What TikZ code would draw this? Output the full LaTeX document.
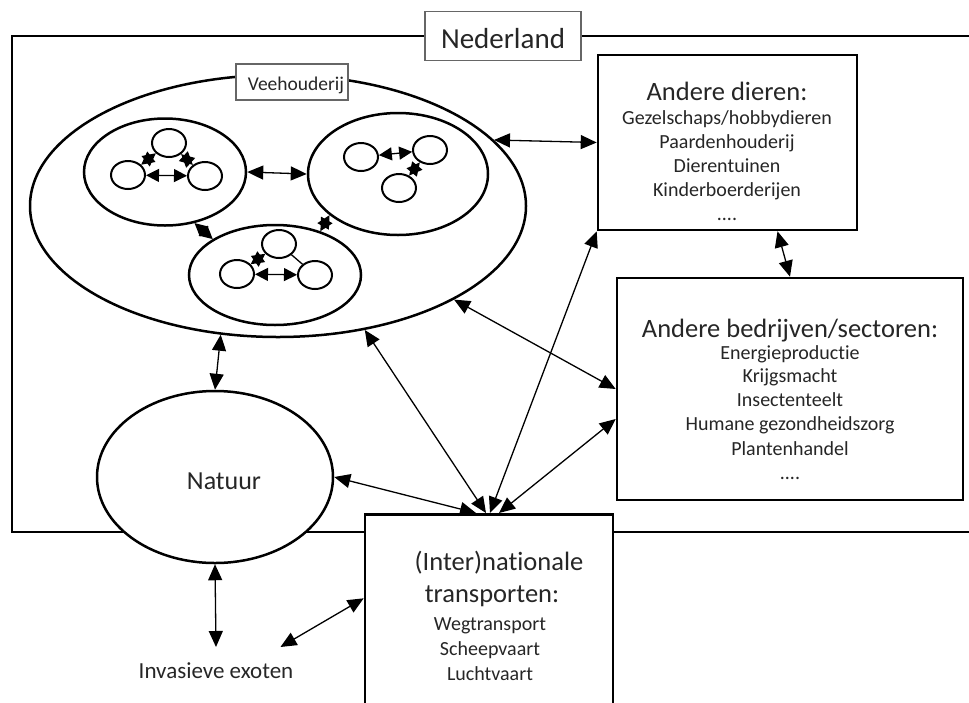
\documentclass[tikz,border=0pt]{standalone}
\usepackage{fontspec}
\setmainfont{Carlito}[Ligatures=NoCommon]
\usetikzlibrary{arrows.meta,shapes.geometric}
\newcommand\fsz[1]{\fontsize{#1}{#1}\selectfont}
\begin{document}
\begin{tikzpicture}[x=1pt,y=-1pt,
  frame/.style={line width=2.6pt,draw=black},
  box/.style={draw=black,line width=2.6pt,fill=white,inner sep=0pt},
  ell/.style={ellipse,draw=black,line width=2.5pt,inner sep=0pt},
  smallc/.style={ellipse,draw=black,line width=2pt,minimum width=34pt,minimum height=28pt,inner sep=0pt},
  lbl/.style={draw=black!60,line width=1.1pt,fill=white,inner sep=0pt},
  txt/.style={text=black!85,inner sep=0pt,anchor=base},
  con/.style={line width=1.3pt,{Triangle[length=16pt,width=14pt]}-{Triangle[length=16pt,width=14pt]}},
  scon/.style={line width=1.3pt,{Triangle[length=13pt,width=13pt]}-{Triangle[length=13pt,width=13pt]}}]
\useasboundingbox (0,0) rectangle (969,702);
% Nederland frame
\draw[frame] (975,36) -- (12,36) -- (12,532) -- (975,532);
% Veehouderij
\node[ell,minimum width=496pt,minimum height=262pt] (vee) at (278,206) {};
\node[ell,minimum width=162pt,minimum height=107pt] (sub1) at (165,172) {};
\node[ell,minimum width=180pt,minimum height=122pt] (sub2) at (398,174) {};
\node[ell,minimum width=172pt,minimum height=100pt] (sub3) at (275,275) {};
\node[smallc] (c1t) at (169,143) {};
\node[smallc] (c1l) at (128,175) {};
\node[smallc] (c1r) at (205,176) {};
\node[smallc] (c2l) at (361,157) {};
\node[smallc] (c2r) at (430,150) {};
\node[smallc] (c2b) at (399,188) {};
\node[smallc] (c3t) at (279,244) {};
\node[smallc] (c3l) at (237,274) {};
\node[smallc] (c3r) at (315,275) {};
\node[lbl,minimum width=112pt,minimum height=36pt] (veelbl) at (292,82) {};
\node[txt,font=\fsz{19.5}] (veetxt) at (296,90) {Veehouderij};
% Natuur
\node[ell,fill=white,minimum width=236pt,minimum height=172pt] (natuur) at (215,477) {};
\node[txt,font=\fsz{26}] (natuurtxt) at (224,489) {Natuur};
\node[txt,font=\fsz{23},inner ysep=15pt] (inv) at (216,678) {Invasieve exoten};
% boxes
\node[box,minimum width=259pt,minimum height=175pt] (dieren) at (727.5,142.5) {};
\node[box,minimum width=346pt,minimum height=222pt] (bedr) at (790,389) {};
\node[box,minimum width=248pt,minimum height=194pt,anchor=north] (trans) at (489,513) {};
\node[lbl,minimum width=156pt,minimum height=49pt] (ned) at (503,36) {};
\node[txt,font=\fsz{29}] (nedtxt) at (503,48) {Nederland};
% texts dieren
\node[txt,font=\fsz{26.5}] (d0) at (727,100) {Andere dieren:};
\node[txt,font=\fsz{20}] (d1) at (727,124) {Gezelschaps/hobbydieren};
\node[txt,font=\fsz{20}] (d2) at (727,148) {Paardenhouderij};
\node[txt,font=\fsz{20}] (d3) at (727,172) {Dierentuinen};
\node[txt,font=\fsz{20}] (d4) at (727,196) {Kinderboerderijen};
\node[txt,font=\fsz{20}] (d5) at (727,220) {....};
% texts bedrijven
\node[txt,font=\fsz{26.5}] (b0) at (790,337) {Andere bedrijven/sectoren:};
\node[txt,font=\fsz{20}] (b1) at (790,359) {Energieproductie};
\node[txt,font=\fsz{20}] (b2) at (790,382) {Krijgsmacht};
\node[txt,font=\fsz{20}] (b3) at (790,406) {Insectenteelt};
\node[txt,font=\fsz{20}] (b4) at (790,430) {Humane gezondheidszorg};
\node[txt,font=\fsz{20}] (b5) at (790,455) {Plantenhandel};
\node[txt,font=\fsz{20}] (b6) at (790,479) {....};
% texts transport
\node[txt,font=\fsz{26.5}] (t0) at (499,570) {(Inter)nationale};
\node[txt,font=\fsz{26.5}] (t1) at (492,602) {transporten:};
\node[txt,font=\fsz{20}] (t2) at (490,630) {Wegtransport};
\node[txt,font=\fsz{20}] (t3) at (490,655) {Scheepvaart};
\node[txt,font=\fsz{20}] (t4) at (490,680) {Luchtvaart};
% small arrows inside
\draw[scon] (c1l) -- (c1r);
\draw[scon] (c1t) -- (c1l);
\draw[scon] (c1t) -- (c1r);
\draw[scon] (c2l) -- (c2r);
\draw[scon] (c2r) -- (c2b);
\draw[scon] (c3l) -- (c3r);
\draw[scon] (c3t) -- (c3l);
\draw[line width=1.3pt] (c3t) -- (c3r);
\draw[con] (sub1.east) -- (sub2.west);
\draw[scon] (sub1.-60) -- (sub3.150);
\draw[scon] (sub2.211) -- (sub3.44);
% main arrows
\draw[con] (vee.17) -- (dieren.west);
\draw[con] (vee.-28) -- (bedr.west);
\draw[con] (vee.-114) -- (natuur.north);
\draw[con] (natuur.south) -- (inv.north);
\draw[con] ([xshift=-13pt]inv.north east) -- ([yshift=13pt]trans.west);
\draw[con] ([xshift=50pt]dieren.south) -- (bedr.north);
\draw[con] ([xshift=-13pt]trans.north) -- (natuur.east);
\draw[con] ([xshift=-3pt]trans.north) -- (vee.-55);
\draw[con] ([xshift=1pt]trans.north) -- (dieren.south west);
\draw[con] ([xshift=10pt]trans.north) -- ([yshift=-30pt]bedr.west);
\end{tikzpicture}
\end{document}
